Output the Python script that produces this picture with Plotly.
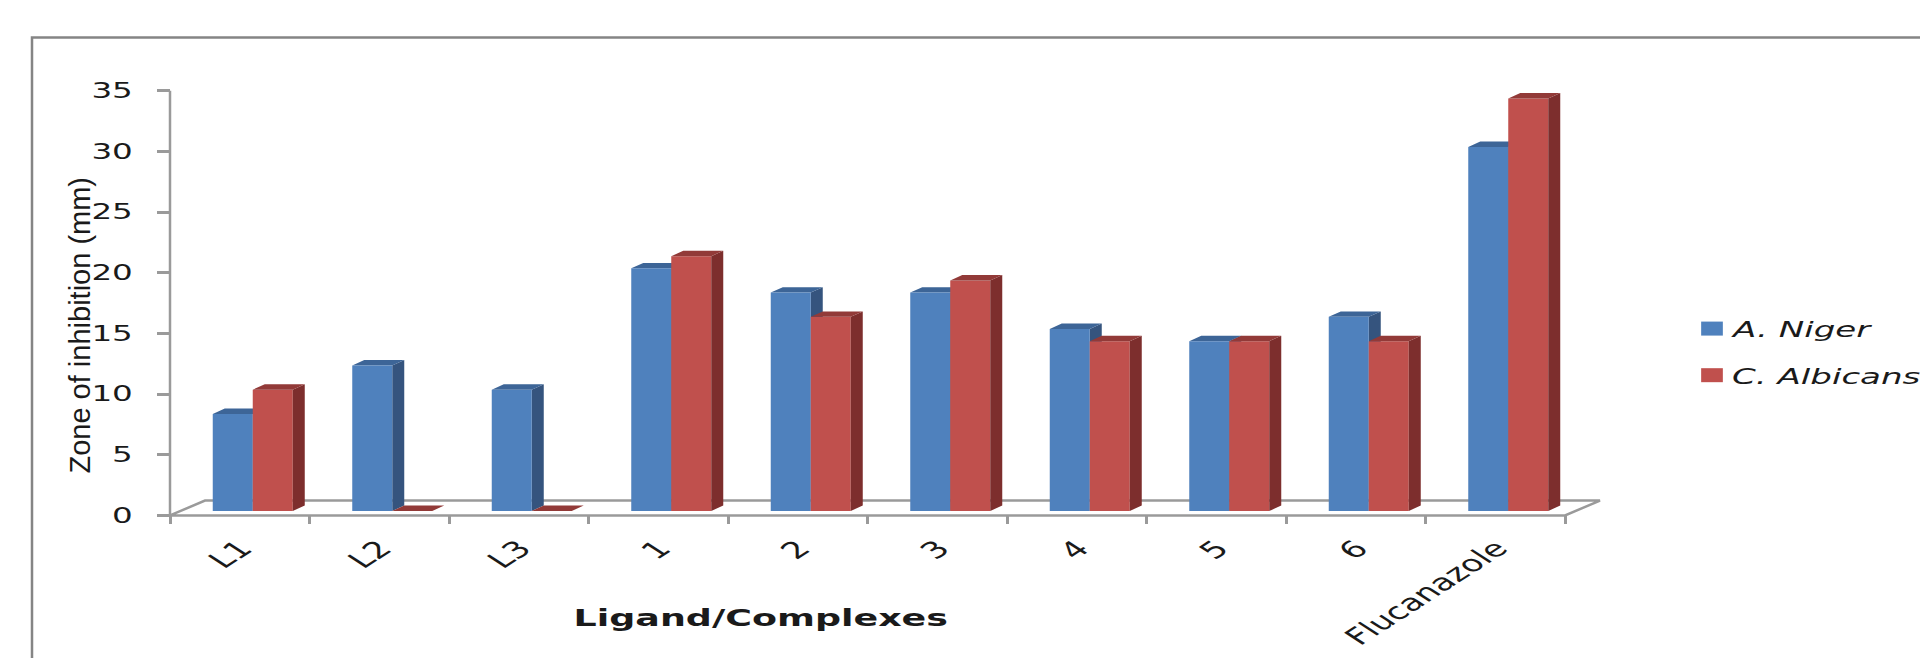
import plotly.graph_objects as go

# ---- data -----------------------------------------------------------------
categories = ["L1", "L2", "L3", "1", "2", "3", "4", "5", "6", "Flucanazole"]
a_niger = [8, 12, 10, 20, 18, 18, 15, 14, 16, 30]
c_albicans = [10, 0, 0, 21, 16, 19, 14, 14, 14, 34]
y_tick_values = [0, 5, 10, 15, 20, 25, 30, 35]

# ---- page geometry (pixels) ----------------------------------------------
FIG_W, FIG_H = 1920, 658
SLOT_PX = 139.5          # width of one category slot on the front plane
FIRST_SLOT_PX = 239.75   # centre of the first slot
MM_PX = 12.3             # pixels per mm on the value axis
BASELINE_PX = 518.5      # front edge of the floor (value 0)
X_RANGE = [-0.78, 9.85]
Y_RANGE = [-0.6, 35.6]
TEXT_STRETCH = 1.55      # wide-set lettering


def px_x(p):
    return p / SLOT_PX


def px_y(p):
    return p / MM_PX


x_domain = [(FIRST_SLOT_PX + X_RANGE[0] * SLOT_PX) / FIG_W,
            (FIRST_SLOT_PX + X_RANGE[1] * SLOT_PX) / FIG_W]
y_domain = [1 - (BASELINE_PX - Y_RANGE[0] * MM_PX) / FIG_H,
            1 - (BASELINE_PX - Y_RANGE[1] * MM_PX) / FIG_H]

# pseudo-3D column styling
BAR_W = px_x(40)
SHIFT_X = px_x(13)     # columns stand a little behind the front axis plane
SHIFT_Y = px_y(4.5)
DEPTH_X = px_x(12)     # column depth (side / top faces)
DEPTH_Y = px_y(5.5)
FLOOR_X = px_x(35)     # floor depth
FLOOR_Y = px_y(15)

AXIS_COLOR = "#9a9a9a"
TEXT_COLOR = "#1a1a1a"

idx = list(range(len(categories)))


def column_faces(values, offset):
    side_x, side_y, top_x, top_y = [], [], [], []
    for i, v in zip(idx, values):
        left = i + offset
        right = left + BAR_W
        bottom = SHIFT_Y
        top = SHIFT_Y + v
        side_x += [right, right + DEPTH_X, right + DEPTH_X, right, right, None]
        side_y += [bottom, bottom + DEPTH_Y, top + DEPTH_Y, top, bottom, None]
        top_x += [left, left + DEPTH_X, right + DEPTH_X, right, left, None]
        top_y += [top, top + DEPTH_Y, top + DEPTH_Y, top, top, None]
    return side_x, side_y, top_x, top_y


series = [
    # name, values, offset, front, side, top, axes for the depth faces
    ("A. Niger", a_niger, SHIFT_X - BAR_W, "#4f81bd", "#35547e", "#3d6597", ("x", "y")),
    ("C. Albicans", c_albicans, SHIFT_X, "#c0504d", "#7d2e2d", "#923a38", ("x2", "y2")),
]

fig = go.Figure()

for name, vals, off, front, side, topc, (fx, fy) in series:
    sx, sy, tx, ty = column_faces(vals, off)
    fig.add_trace(go.Scatter(x=sx, y=sy, xaxis=fx, yaxis=fy, mode="lines",
                             fill="toself", fillcolor=side, line=dict(width=0),
                             hoverinfo="skip", showlegend=False))
    fig.add_trace(go.Scatter(x=tx, y=ty, xaxis=fx, yaxis=fy, mode="lines",
                             fill="toself", fillcolor=topc, line=dict(width=0),
                             hoverinfo="skip", showlegend=False))
    fig.add_trace(go.Bar(x=idx, y=vals, base=SHIFT_Y, offset=off, width=BAR_W,
                         name=name, legendgroup=name, showlegend=False,
                         marker=dict(color=front, line=dict(width=0)),
                         xaxis="x2", yaxis="y2", hoverinfo="skip"))
    # legend key
    fig.add_trace(go.Scatter(x=[None], y=[None], mode="markers", name=name,
                             legendgroup=name, xaxis="x2", yaxis="y2",
                             marker=dict(symbol="square", size=14, color=front)))

n = len(categories)
floor_path = (f"M {-0.5},{0} L {n - 0.5},{0} "
              f"L {n - 0.5 + FLOOR_X},{FLOOR_Y} L {-0.5 + FLOOR_X},{FLOOR_Y} Z")

shapes = [
    dict(type="path", path=floor_path, xref="x", yref="y", layer="below",
         line=dict(color=AXIS_COLOR, width=2.5)),
    dict(type="line", xref="x", yref="y", x0=-0.5, x1=-0.5,
         y0=y_tick_values[0], y1=y_tick_values[-1], layer="below",
         line=dict(color=AXIS_COLOR, width=2.5)),
    # chart-area frame
    dict(type="rect", xref="paper", yref="paper", x0=32 / FIG_W, x1=1.05,
         y0=-0.05, y1=1 - 34 / FIG_H, line=dict(color="#858585", width=2.5)),
]

fig.update_layout(
    width=FIG_W, height=FIG_H, autosize=False,
    margin=dict(l=0, r=0, t=0, b=0),
    paper_bgcolor="white", plot_bgcolor="white",
    barmode="overlay",
    showlegend=True,
    legend=dict(x=1692 / FIG_W, y=1 - 308 / FIG_H, xanchor="left", yanchor="top",
                font=dict(family="DejaVu Sans", size=22, color=TEXT_COLOR, style="italic"),
                tracegroupgap=15, itemwidth=30, bgcolor="rgba(0,0,0,0)"),
    xaxis=dict(domain=x_domain, range=X_RANGE, anchor="free",
               position=1 - BASELINE_PX / FIG_H,
               tickmode="array", tickvals=idx, ticktext=categories,
               tickangle=-45, ticks="",
               tickfont=dict(family="DejaVu Sans", size=23, color=TEXT_COLOR),
               ticklabelstandoff=14, ticklabelshift=8,
               showgrid=False, zeroline=False, showline=False,
               minor=dict(tickmode="array", tickvals=[i - 0.5 for i in range(n + 1)],
                          ticks="outside", ticklen=8, tickwidth=2.5,
                          tickcolor=AXIS_COLOR, showgrid=False)),
    yaxis=dict(domain=y_domain, range=Y_RANGE, anchor="free",
               position=(FIRST_SLOT_PX - 0.5 * SLOT_PX) / FIG_W,
               tickmode="array", tickvals=y_tick_values,
               ticks="outside", ticklen=13, tickwidth=2.5, tickcolor=AXIS_COLOR,
               tickfont=dict(family="DejaVu Sans", size=21, color=TEXT_COLOR),
               ticklabelstandoff=20,
               showgrid=False, zeroline=False, showline=False),
    xaxis2=dict(overlaying="x", range=X_RANGE, visible=False, anchor="y2"),
    yaxis2=dict(overlaying="y", range=Y_RANGE, visible=False, anchor="x2"),
    shapes=shapes,
    annotations=[
        dict(text="Zone of inhibition (mm)", xref="paper", yref="paper",
             x=80 / FIG_W, y=1 - 326 / FIG_H, xanchor="center", yanchor="middle",
             textangle=-90, showarrow=False,
             font=dict(family="Liberation Sans", size=29, color=TEXT_COLOR)),
        dict(text="<b>Ligand/Complexes</b>", xref="paper", yref="paper",
             x=761 / FIG_W, y=1 - 623 / FIG_H, xanchor="center", yanchor="middle",
             showarrow=False,
             font=dict(family="DejaVu Sans", size=23.5, color=TEXT_COLOR)),
    ],
    hovermode=False,
)

# Widen the tick, legend and axis-title lettering horizontally around each
# label's anchor point once the figure has been drawn.
stretch_js = """
var gd = document.getElementById('{plot_id}');
var S = %s;
function widen(el, mode) {
  var r = el.getBoundingClientRect();
  if (!r.width) { return; }
  var px = mode === 'end' ? r.right : (mode === 'middle' ? (r.left + r.right) / 2 : r.left);
  var ctm = el.parentNode.getScreenCTM();
  if (!ctm) { return; }
  var pt = el.ownerSVGElement.createSVGPoint();
  pt.x = px; pt.y = (r.top + r.bottom) / 2;
  var lp = pt.matrixTransform(ctm.inverse());
  var old = el.getAttribute('transform') || '';
  el.setAttribute('transform', 'translate(' + lp.x + ',0) scale(' + S + ',1) translate(' + (-lp.x) + ',0) ' + old);
}
gd.querySelectorAll('.ytick text, .xtick text').forEach(function (t) {
  widen(t, t.getAttribute('text-anchor') || 'middle');
});
gd.querySelectorAll('.legendtext').forEach(function (t) { widen(t, 'start'); });
gd.querySelectorAll('.legendpoints path').forEach(function (p) { widen(p, 'middle'); });
gd.querySelectorAll('.annotation-text').forEach(function (t) {
  if (t.textContent === 'Ligand/Complexes') { widen(t, 'middle'); }
});
// the widened legend entries run past the legend's own clip box
gd.querySelectorAll('.legend [clip-path]').forEach(function (e) { e.removeAttribute('clip-path'); });
""" % TEXT_STRETCH

fig.write_html("out.html", post_script=stretch_js)
